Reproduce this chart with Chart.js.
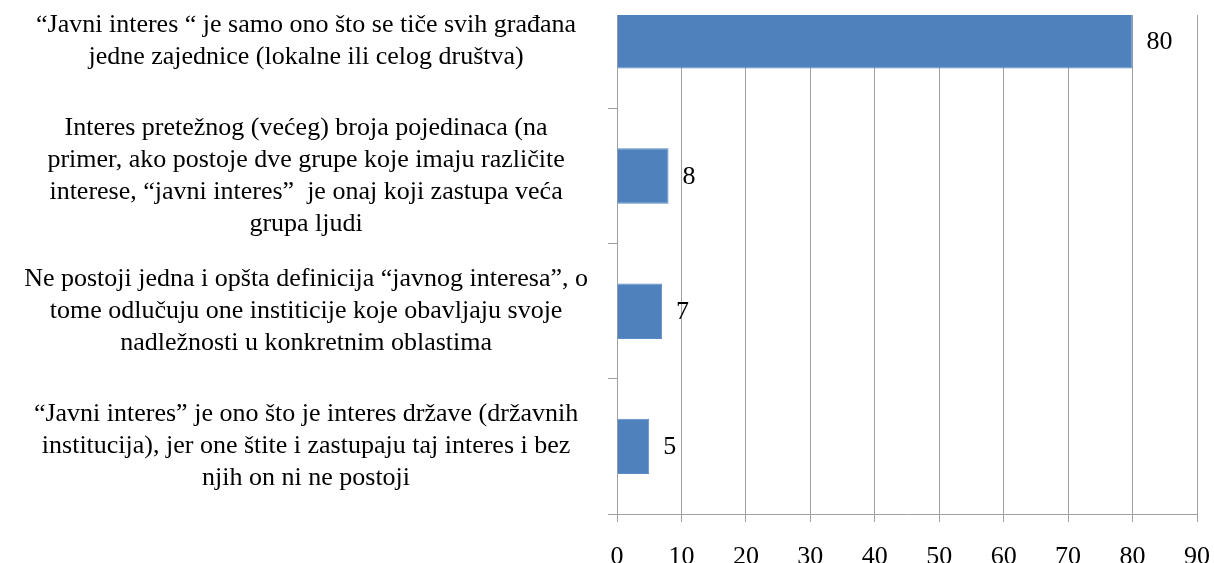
<!DOCTYPE html>
<html>
<head>
  <title>Javni interes</title>
  <script src="https://cdn.jsdelivr.net/npm/chart.js"></script>
  <style>
    html, body { margin: 0; padding: 0; background: #fff; }
  </style>
</head>
<body>
  <canvas id="myChart" width="1214" height="563"></canvas>

  <script>
    // Odgovori (kategorije)
    var categories = [
      ['“Javni interes “ je samo ono što se tiče svih građana', 'jedne zajednice (lokalne ili celog društva)'],
      ['Interes pretežnog (većeg) broja pojedinaca (na', 'primer, ako postoje dve grupe koje imaju različite', 'interese, “javni interes”  je onaj koji zastupa veća', 'grupa ljudi'],
      ['Ne postoji jedna i opšta definicija “javnog interesa”, o', 'tome odlučuju one institicije koje obavljaju svoje', 'nadležnosti u konkretnim oblastima'],
      ['“Javni interes” je ono što je interes države (državnih', 'institucija), jer one štite i zastupaju taj interes i bez', 'njih on ni ne postoji']
    ];

    // Vrednosti
    var values = [80, 8, 7, 5];

    // Podeoci x ose
    var xTicks = [0, 10, 20, 30, 40, 50, 60, 70, 80, 90];

    var serif = "'Liberation Serif', 'Times New Roman', serif";
    var gridColor = '#a0a0a0';

    var ctx = document.getElementById('myChart').getContext('2d');

    // natpisi vrednosti desno od traka
    var valueLabels = {
      id: 'valueLabels',
      afterDatasetsDraw: function(chart) {
        var c = chart.ctx;
        var meta = chart.getDatasetMeta(0);
        c.save();
        c.font = '26px ' + serif;
        c.fillStyle = '#000';
        c.textAlign = 'left';
        c.textBaseline = 'middle';
        meta.data.forEach(function(bar, i) {
          c.fillText(String(values[i]), bar.x + 14, bar.y + 1);
        });
        c.restore();
      }
    };

    var myChart = new Chart(ctx, {
      type: 'bar',
      data: {
        datasets: [{
          data: values.map(function(v, i) { return { x: v, y: i }; }),
          backgroundColor: '#4f81bd',
          borderColor: '#5b8cc6',
          borderWidth: 1,
          barPercentage: 0.41,
          categoryPercentage: 1
        }]
      },
      options: {
        indexAxis: 'y',
        responsive: false,
        animation: false,
        layout: { padding: { top: 15, right: 17, left: 0, bottom: 0 } },
        plugins: {
          legend: { display: false },
          tooltip: { enabled: false }
        },
        scales: {
          x: {
            type: 'linear',
            min: 0,
            max: 90,
            afterBuildTicks: function(axis) {
              axis.ticks = xTicks.map(function(v) { return { value: v }; });
            },
            afterFit: function(axis) {
              axis.height = 49;
              axis.paddingLeft = 0;
              axis.paddingRight = 0;
            },
            grid: { color: gridColor, lineWidth: 1, tickLength: 8, tickColor: gridColor },
            border: { color: gridColor },
            ticks: {
              font: { family: serif, size: 26 },
              color: '#000',
              padding: 20
            }
          },
          y: {
            type: 'linear',
            reverse: true,
            offset: false,
            min: -0.19,
            max: 3.5,
            weight: 1,
            afterBuildTicks: function(axis) {
              axis.ticks = categories.map(function(c, i) { return { value: i }; });
            },
            afterFit: function(axis) {
              axis.width = 608;
              axis.paddingTop = 0;
              axis.paddingBottom = 0;
            },
            grid: { display: false, drawTicks: false },
            border: { display: false },
            ticks: {
              autoSkip: false,
              crossAlign: 'center',
              padding: 20,
              color: '#000',
              font: { family: serif, size: 26, lineHeight: 1.23 },
              callback: function(v) { return categories[v]; }
            }
          },
          // samo kratke crte izmedju kategorija
          y2: {
            type: 'linear',
            position: 'left',
            reverse: true,
            offset: false,
            min: -0.19,
            max: 3.5,
            weight: 0,
            afterBuildTicks: function(axis) {
              axis.ticks = categories.map(function(c, i) { return { value: i + 0.5 }; });
            },
            afterFit: function(axis) {
              axis.width = 9;
              axis.paddingTop = 0;
              axis.paddingBottom = 0;
            },
            grid: { drawOnChartArea: false, offset: false, tickLength: 9, color: gridColor },
            border: { color: gridColor },
            ticks: { display: false }
          }
        }
      },
      plugins: [valueLabels]
    });
  </script>
</body>
</html>
